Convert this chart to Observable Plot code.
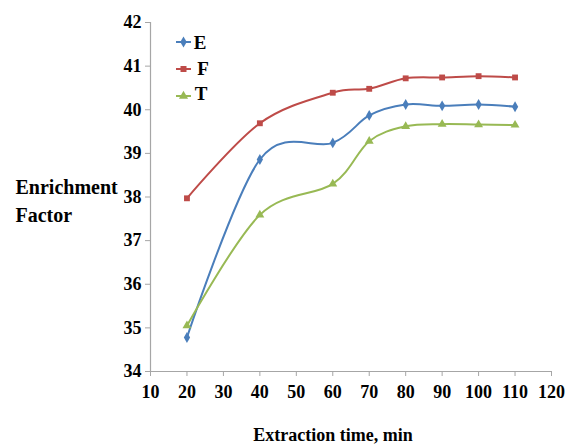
<!DOCTYPE html>
<html>
<head>
<meta charset="utf-8">
<script src="https://cdn.jsdelivr.net/npm/d3@7"></script>
<script src="https://cdn.jsdelivr.net/npm/@observablehq/plot@0.6"></script>
<style>
  html, body { margin: 0; padding: 0; background: #fff; }
  #chart svg { display: block; }
  #chart svg text { font-family: 'Liberation Serif', 'DejaVu Serif', serif; }
</style>
</head>
<body>
<div id="chart"></div>
<script>
// ---- data ----
const times = [20, 40, 60, 70, 80, 90, 100, 110];
const seriesNames = ["E", "F", "T"];
const seriesE = [34.78, 38.86, 39.24, 39.87, 40.12, 40.09, 40.12, 40.07];
const seriesF = [37.97, 39.69, 40.39, 40.48, 40.72, 40.74, 40.77, 40.74];
const seriesT = [35.05, 37.59, 38.30, 39.28, 39.62, 39.67, 39.66, 39.65];
const seriesColors = ["#4a7ebb", "#be4b48", "#98b954"];
const seriesSymbols = ["diamond", "square", "triangle"];
const xTicks = [10, 20, 30, 40, 50, 60, 70, 80, 90, 100, 110, 120];
const yTicks = [34, 35, 36, 37, 38, 39, 40, 41, 42];
const xTitle = "Extraction time, min";
const yTitle = "Enrichment\nFactor";

const seriesValues = [seriesE, seriesF, seriesT];
const rows = [];
seriesNames.forEach((name, s) => {
  times.forEach((t, i) => rows.push({time: t, series: name, value: seriesValues[s][i]}));
});

const serif = "'Liberation Serif', 'DejaVu Serif', serif";

// legend drawn inside the plot frame
function legend() {
  return (index, scales, values, dims) => {
    const g = d3.create("svg:g");
    const symMap = {diamond: d3.symbolDiamond, square: d3.symbolSquare, triangle: d3.symbolTriangle};
    const lineYs = [42, 69, 96];
    const textYs = [42, 68, 93];
    const textXs = [200, 203, 201];
    seriesNames.forEach((name, i) => {
      const c = scales.color(name);
      g.append("line")
        .attr("x1", 176).attr("x2", 191)
        .attr("y1", lineYs[i]).attr("y2", lineYs[i])
        .attr("stroke", c).attr("stroke-width", 2);
      g.append("path")
        .attr("transform", `translate(183.5,${lineYs[i]})`)
        .attr("d", d3.symbol(symMap[seriesSymbols[i]], 36)())
        .attr("fill", c);
      g.append("text")
        .attr("x", textXs[i]).attr("y", textYs[i])
        .attr("dy", "0.35em")
        .attr("font-weight", "bold")
        .attr("font-size", 19)
        .attr("fill", "black")
        .text(name);
    });
    return g.node();
  };
}

const chart = Plot.plot({
  width: 573,
  height: 448,
  marginLeft: 150,
  marginRight: 22,
  marginTop: 22,
  marginBottom: 77,
  style: {fontFamily: serif, background: "white"},
  x: {domain: [10, 120]},
  y: {domain: [34, 42]},
  color: {domain: seriesNames, range: seriesColors},
  symbol: {domain: seriesNames, range: seriesSymbols},
  marks: [
    Plot.ruleX([10], {stroke: "#a6a6a6", strokeWidth: 1.2}),
    Plot.ruleY([34], {stroke: "#a6a6a6", strokeWidth: 1.2}),
    Plot.axisX({ticks: xTicks, tickSize: 5, tickPadding: 9, stroke: "#a6a6a6", fill: "black",
      fontSize: 18, fontWeight: "bold", fontVariant: "normal", label: null}),
    Plot.axisY({ticks: yTicks, tickSize: 5, tickPadding: 4, stroke: "#a6a6a6", fill: "black",
      fontSize: 18, fontWeight: "bold", fontVariant: "normal", label: null}),
    Plot.line(rows, {x: "time", y: "value", z: "series", stroke: "series", curve: "cardinal", strokeWidth: 2}),
    Plot.dot(rows, {x: "time", y: "value", fill: "series", symbol: "series", r: 3.3}),
    Plot.text([yTitle], {frameAnchor: "left", text: d => d, dx: -135, dy: 2, textAnchor: "start",
      lineHeight: 1.38, fontSize: 20, fontWeight: "bold", fill: "black"}),
    Plot.text([xTitle], {frameAnchor: "bottom", text: d => d, dx: -18, dy: 69, fontSize: 18,
      fontWeight: "bold", fill: "black"}),
    legend()
  ]
});
// make sure every label uses the serif face (Times-like, as in the reference)
d3.select(chart).selectAll("text, g").style("font-family", serif);
document.getElementById("chart").append(chart);
</script>
</body>
</html>
